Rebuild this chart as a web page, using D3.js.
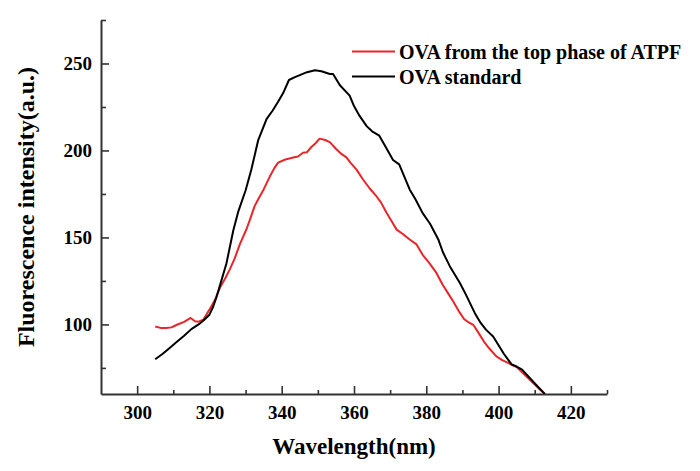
<!DOCTYPE html>
<html>
<head>
<meta charset="utf-8">
<script src="https://cdn.jsdelivr.net/npm/d3@7"></script>
<style>
  html, body { margin: 0; padding: 0; background: #fff; }
  svg { display: block; }
  text { font-family: "Liberation Serif", "Times New Roman", serif; font-weight: bold; fill: #000; }
</style>
</head>
<body>
<svg id="chart" width="700" height="471"></svg>
<script>
// ---- data ----
const seriesNames = ["OVA from the top phase of ATPF", "OVA standard"];
const seriesColors = ["#e8262a", "#000000"];

const redWavelength = [305,306.5,308,309.5,311,313,314.8,316,317,318.3,320,321.5,322.9,324.5,325.6,327,328.4,330.3,331.5,332.5,333.5,335,336.7,338,339,341,343.2,344.5,345.9,347,348.2,349.3,350.5,352,353.3,355,356.5,357.9,359,360.7,362.5,364.4,366.2,367.5,369,370.5,371.8,373.5,375.4,377.3,379,380.8,382.8,384.5,386,387.5,389.3,390.5,391.5,393,394.5,396,397.5,399.4,401,402.5,403.6,405,407,409,411,412.8];
const redIntensity  = [98.8,98,97.9,98.3,99.8,101.5,103.7,101.8,101.6,102.7,108.5,114,121,127,131.5,138,146,155,162,168,172,177.6,185,190,193,194.8,195.9,196.5,198.7,199,202,204,206.8,206,204.8,201,198,196,193,189,183.3,178,173.7,170,164.2,159,154.5,152,148.8,146,140,135.4,129.6,123,118,113,106.6,103,101.5,99.8,95,90,86,81.6,79.5,78,76.8,75.5,71.5,67.5,63.5,60];

const blackWavelength = [305,307,309,311,313,315,317,318.5,320,321,322,323,324.7,326.6,328,330,331.6,333.5,335.8,337.5,339,340.4,342,343.5,345,347,349.2,351,353.3,354.2,356.1,358.8,360,361.5,363.5,365,367,368.5,370.8,372.5,375.4,377,379,381,383.3,384.6,386.5,389.3,391,393.4,395,396.5,398.5,400,401.5,403.6,405,406.5,408.5,410.5,412.8];
const blackIntensity  = [80,83,86.5,90,93.5,97.3,100,102.5,105.6,110,116,123,135,154,165,177,189,206,218,223,228,233,240.5,242,243.3,245,246.1,245.5,244,244,237.5,231.5,225.5,220,214,211,208.5,203,194.5,192,177.6,172,164,158,149,141.5,133.5,123.8,117,106.6,101,97,93,88,83,77,75.8,74,69.5,65,60];

const xDomain = [290, 430];
const yDomain = [60, 275];
const xMajorTicks = [300, 320, 340, 360, 380, 400, 420];
const xMinorTicks = [310, 330, 350, 370, 390, 410, 430];
const yMajorTicks = [100, 150, 200, 250];
const yMinorTicks = [75, 125, 175, 225, 275];
const xTitle = "Wavelength(nm)";
const yTitle = "Fluorescence intensity(a.u.)";

// ---- layout ----
const svg = d3.select("#chart");
const mLeft = 101, mRight = 607, mTop = 20, mBottom = 394;

const x = d3.scaleLinear().domain(xDomain).range([mLeft, mRight]);
const y = d3.scaleLinear().domain(yDomain).range([mBottom, mTop]);

const axisColor = "#333";

// x axis
const gx = svg.append("g").attr("transform", `translate(0,${mBottom})`);
gx.call(d3.axisBottom(x).tickValues(xMajorTicks).tickSize(-8).tickSizeOuter(0).tickFormat(d3.format("d")));
gx.select(".domain").attr("stroke", axisColor).attr("stroke-width", 2);
gx.selectAll(".tick line").attr("stroke", axisColor).attr("stroke-width", 1.6);
gx.selectAll(".tick text").style("font-size", "19px").style("font-family", "'Liberation Serif', serif").style("font-weight", "bold").attr("fill", "#000").attr("dy", "0.71em").attr("y", 12);
const gx2 = svg.append("g").attr("transform", `translate(0,${mBottom})`);
gx2.call(d3.axisBottom(x).tickValues(xMinorTicks).tickSize(-4).tickSizeOuter(0).tickFormat(""));
gx2.select(".domain").remove();
gx2.selectAll(".tick line").attr("stroke", axisColor).attr("stroke-width", 1.6);

// y axis
const gy = svg.append("g").attr("transform", `translate(${mLeft},0)`);
gy.call(d3.axisLeft(y).tickValues(yMajorTicks).tickSize(-8).tickSizeOuter(0).tickFormat(d3.format("d")));
gy.select(".domain").attr("stroke", axisColor).attr("stroke-width", 2);
gy.selectAll(".tick line").attr("stroke", axisColor).attr("stroke-width", 1.6);
gy.selectAll(".tick text").style("font-size", "19px").style("font-family", "'Liberation Serif', serif").style("font-weight", "bold").attr("fill", "#000").attr("x", -9);
const gy2 = svg.append("g").attr("transform", `translate(${mLeft},0)`);
gy2.call(d3.axisLeft(y).tickValues(yMinorTicks).tickSize(-5).tickSizeOuter(0).tickFormat(""));
gy2.select(".domain").remove();
gy2.selectAll(".tick line").attr("stroke", axisColor).attr("stroke-width", 1.6);

// axis titles
svg.append("text").attr("x", 354).attr("y", 454).attr("text-anchor", "middle")
  .style("font-size", "23px").text(xTitle);
svg.append("text").attr("transform", `translate(34,${207}) rotate(-90)`).attr("text-anchor", "middle")
  .style("font-size", "24px").text(yTitle);

// clip
svg.append("clipPath").attr("id", "plotclip").append("rect")
  .attr("x", mLeft).attr("y", mTop).attr("width", mRight - mLeft).attr("height", mBottom - mTop);

const line = d3.line().x(d => x(d[0])).y(d => y(d[1])).curve(d3.curveLinear);

const redData = redWavelength.map((w, i) => [w, redIntensity[i]]);
const blackData = blackWavelength.map((w, i) => [w, blackIntensity[i]]);

const plot = svg.append("g").attr("clip-path", "url(#plotclip)");
plot.append("path").datum(redData).attr("d", line).attr("fill", "none")
  .attr("stroke", seriesColors[0]).attr("stroke-width", 2).attr("stroke-linejoin", "round");
plot.append("path").datum(blackData).attr("d", line).attr("fill", "none")
  .attr("stroke", seriesColors[1]).attr("stroke-width", 2).attr("stroke-linejoin", "round");

// legend
const legend = svg.append("g");
const legendRows = [51.5, 76.5];
seriesNames.forEach((name, i) => {
  legend.append("line").attr("x1", 352).attr("x2", 395)
    .attr("y1", legendRows[i]).attr("y2", legendRows[i])
    .attr("stroke", seriesColors[i]).attr("stroke-width", 2);
  legend.append("text").attr("x", 399).attr("y", legendRows[i] + 7.5)
    .style("font-size", "20px").text(name);
});
</script>
</body>
</html>
